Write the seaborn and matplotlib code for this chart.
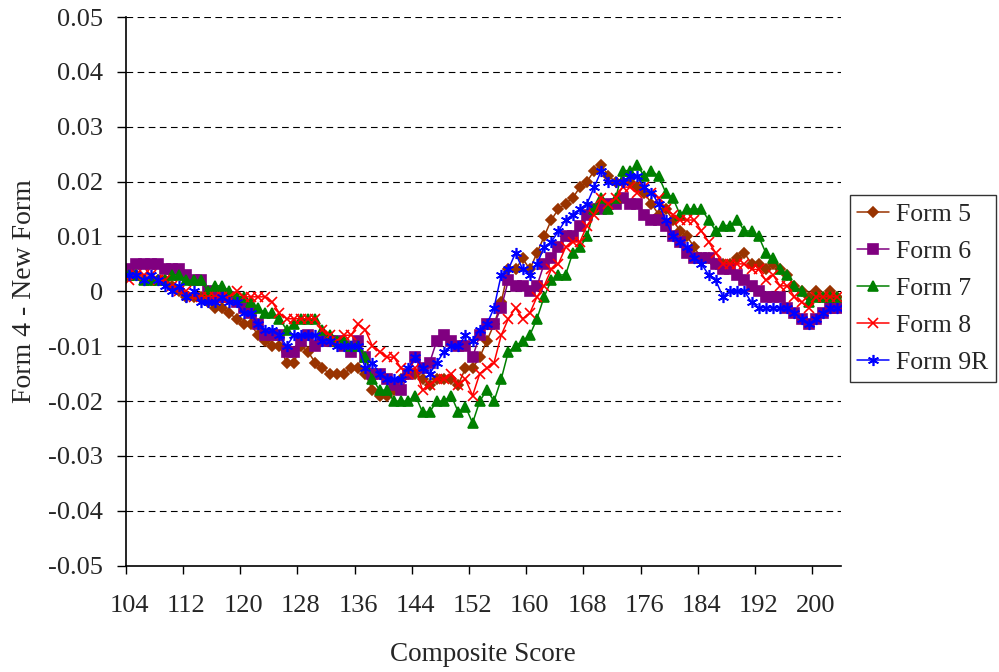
import matplotlib
matplotlib.use("Agg")
import matplotlib.pyplot as plt
import numpy as np
import pandas as pd
import seaborn as sns

scores = list(range(104, 204))

form5 = [0.003, 0.003, 0.002, 0.002, 0.002, 0.002, 0.001, 0.000, -0.001, -0.001,
         -0.001, -0.002, -0.003, -0.003, -0.004, -0.005, -0.006, -0.006, -0.008, -0.009,
         -0.010, -0.010, -0.013, -0.013, -0.010, -0.011, -0.013, -0.014, -0.015, -0.015,
         -0.015, -0.014, -0.014, -0.015, -0.018, -0.019, -0.019, -0.018, -0.016, -0.015,
         -0.015, -0.016, -0.017, -0.016, -0.016, -0.016, -0.017, -0.014, -0.014, -0.012,
         -0.009, -0.006, -0.002, 0.004, 0.004, 0.006, 0.004, 0.007, 0.010, 0.013,
         0.015, 0.016, 0.017, 0.019, 0.020, 0.022, 0.023, 0.021, 0.020, 0.020,
         0.020, 0.019, 0.018, 0.016, 0.014, 0.015, 0.013, 0.011, 0.010, 0.008,
         0.006, 0.006, 0.005, 0.005, 0.005, 0.006, 0.007, 0.005, 0.005, 0.004,
         0.005, 0.004, 0.003, 0.001, 0.000, -0.001, 0.000, -0.001, 0.000, -0.001]

form6 = [0.004, 0.005, 0.005, 0.005, 0.005, 0.004, 0.004, 0.004, 0.003, 0.002,
         0.002, 0.000, -0.001, -0.001, -0.001, -0.002, -0.003, -0.004, -0.006, -0.008,
         -0.008, -0.008, -0.011, -0.011, -0.009, -0.008, -0.010, -0.009, -0.009, -0.009,
         -0.010, -0.011, -0.009, -0.012, -0.015, -0.015, -0.016, -0.017, -0.018, -0.015,
         -0.012, -0.014, -0.013, -0.009, -0.008, -0.009, -0.010, -0.010, -0.012, -0.008,
         -0.006, -0.006, -0.003, 0.002, 0.001, 0.001, 0.000, 0.001, 0.005, 0.006,
         0.008, 0.010, 0.010, 0.012, 0.014, 0.015, 0.015, 0.016, 0.016, 0.017,
         0.016, 0.016, 0.014, 0.013, 0.013, 0.012, 0.010, 0.009, 0.007, 0.006,
         0.006, 0.006, 0.005, 0.004, 0.004, 0.003, 0.002, 0.001, 0.000, -0.001,
         -0.001, -0.001, -0.003, -0.004, -0.005, -0.006, -0.005, -0.004, -0.003, -0.003]

form7 = [0.003, 0.003, 0.002, 0.002, 0.002, 0.002, 0.003, 0.003, 0.002, 0.002,
         0.002, 0.000, 0.001, 0.001, 0.000, -0.001, -0.001, -0.002, -0.003, -0.004,
         -0.004, -0.005, -0.007, -0.006, -0.005, -0.005, -0.005, -0.007, -0.008, -0.009,
         -0.009, -0.010, -0.010, -0.012, -0.016, -0.018, -0.018, -0.020, -0.020, -0.020,
         -0.019, -0.022, -0.022, -0.020, -0.020, -0.019, -0.022, -0.021, -0.024, -0.020,
         -0.018, -0.020, -0.016, -0.011, -0.010, -0.009, -0.008, -0.005, -0.001, 0.002,
         0.003, 0.003, 0.007, 0.008, 0.010, 0.015, 0.017, 0.015, 0.017, 0.022,
         0.022, 0.023, 0.021, 0.022, 0.021, 0.018, 0.017, 0.014, 0.015, 0.015,
         0.015, 0.013, 0.011, 0.012, 0.012, 0.013, 0.011, 0.011, 0.010, 0.007,
         0.006, 0.004, 0.003, 0.001, 0.000, -0.002, -0.001, -0.001, -0.001, -0.001]

form8 = [0.002, 0.003, 0.003, 0.003, 0.002, 0.002, 0.001, 0.000, 0.000, -0.001,
         -0.001, -0.001, -0.001, -0.001, -0.001, 0.000, -0.001, -0.001, -0.001, -0.001,
         -0.002, -0.004, -0.005, -0.005, -0.005, -0.005, -0.005, -0.007, -0.008, -0.009,
         -0.008, -0.008, -0.006, -0.007, -0.010, -0.011, -0.012, -0.012, -0.014, -0.015,
         -0.014, -0.018, -0.017, -0.016, -0.016, -0.015, -0.017, -0.016, -0.019, -0.015,
         -0.014, -0.013, -0.008, -0.005, -0.003, -0.005, -0.004, -0.001, 0.001, 0.004,
         0.005, 0.008, 0.009, 0.009, 0.012, 0.014, 0.017, 0.016, 0.017, 0.019,
         0.019, 0.018, 0.019, 0.018, 0.017, 0.015, 0.014, 0.013, 0.013, 0.013,
         0.011, 0.009, 0.007, 0.005, 0.005, 0.005, 0.005, 0.004, 0.004, 0.002,
         0.003, 0.001, 0.001, -0.001, -0.002, -0.003, -0.001, -0.001, -0.001, -0.001]

form9r = [0.003, 0.003, 0.002, 0.003, 0.002, 0.001, 0.000, 0.001, -0.001, 0.000,
          -0.002, -0.002, -0.002, -0.001, -0.002, -0.002, -0.004, -0.004, -0.006, -0.007,
          -0.007, -0.008, -0.010, -0.008, -0.008, -0.008, -0.008, -0.009, -0.009, -0.010,
          -0.010, -0.010, -0.010, -0.014, -0.013, -0.015, -0.016, -0.016, -0.016, -0.014,
          -0.012, -0.014, -0.015, -0.013, -0.011, -0.010, -0.010, -0.008, -0.009, -0.007,
          -0.006, -0.003, 0.003, 0.004, 0.007, 0.004, 0.003, 0.005, 0.008, 0.009,
          0.011, 0.013, 0.014, 0.015, 0.016, 0.019, 0.022, 0.020, 0.020, 0.020,
          0.021, 0.021, 0.019, 0.018, 0.016, 0.013, 0.010, 0.009, 0.008, 0.006,
          0.005, 0.003, 0.002, -0.001, 0.000, 0.000, 0.000, -0.002, -0.003, -0.003,
          -0.003, -0.003, -0.003, -0.004, -0.005, -0.006, -0.005, -0.004, -0.003, -0.003]

series_names = ["Form 5", "Form 6", "Form 7", "Form 8", "Form 9R"]
series_values = [form5, form6, form7, form8, form9r]
colors = ["#993300", "#800080", "#008000", "#FF0000", "#0000FF"]
markers = ["D", "s", "^", "x", (6, 2, 0)]
marker_sizes = [5, 7, 6.5, 6.5, 8]

df = pd.DataFrame({
    "score": scores * len(series_names),
    "diff": sum(series_values, []),
    "form": np.repeat(series_names, len(scores)),
})

sns.set_style("white")
plt.rcParams["font.family"] = ["Liberation Serif", "DejaVu Serif"]

fig = plt.figure(figsize=(9.99, 6.72), dpi=100)
ax = fig.add_axes([0.1258, 0.1582, 0.8418 - 0.1258, 0.9747 - 0.1582])

for name, col, mk, ms in zip(series_names, colors, markers, marker_sizes):
    sub = df[df["form"] == name]
    sns.lineplot(data=sub, x="score", y="diff", ax=ax, color=col, marker=mk,
                 markersize=ms, markeredgecolor=col, markeredgewidth=1.2,
                 linewidth=1.1, label=name)

ax.set_xlim(103.5, 203.5)
ax.set_ylim(-0.05, 0.05)

# category axis: tick marks at boundaries, labels at category centres
ax.set_xticks(np.arange(103.5, 204, 8))
ax.set_xticklabels([])
ax.set_xticks(np.arange(104, 204, 8), minor=True)
ax.set_xticklabels([str(v) for v in range(104, 204, 8)], minor=True)
ax.tick_params(axis="x", which="major", direction="out", length=6, width=1, color="black", bottom=True)
ax.tick_params(axis="x", which="minor", length=0, labelsize=19, pad=21)

yt = np.round(np.arange(-0.05, 0.051, 0.01), 2)
ax.set_yticks(yt)
ax.set_yticklabels(["0" if v == 0 else f"{v:.2f}" for v in yt])
ax.tick_params(axis="y", direction="out", length=6.5, width=1, color="black", left=True, labelsize=19, pad=10)

for v in yt[1:]:
    ax.axhline(v, color="black", linestyle=(0, (6, 4)), linewidth=0.8, zorder=0)

for s in ["top", "right"]:
    ax.spines[s].set_visible(False)
for s in ["left", "bottom"]:
    ax.spines[s].set_color("black")
    ax.spines[s].set_linewidth(1.2)

ax.set_xlabel("Composite Score", fontsize=19.5, labelpad=18)
ax.set_ylabel("Form 4 - New Form", fontsize=20, labelpad=8)

leg = ax.legend(loc="center left", bbox_to_anchor=(1.012, 0.505), frameon=True,
                fancybox=False, edgecolor="black", fontsize=18.5, labelspacing=0.55,
                handlelength=1.25, handletextpad=0.25, borderpad=0.3, borderaxespad=0)
leg.get_frame().set_linewidth(1.0)

fig.savefig("out.png", dpi=100)
